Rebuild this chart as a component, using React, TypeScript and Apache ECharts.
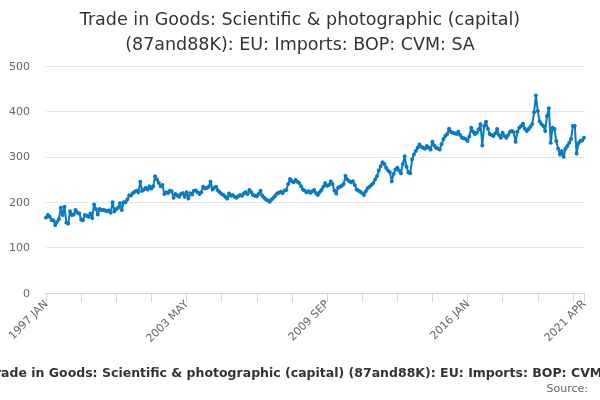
import { useEffect, useRef } from "react";
import * as echarts from "echarts";

const MONTHS = ["JAN", "FEB", "MAR", "APR", "MAY", "JUN", "JUL", "AUG", "SEP", "OCT", "NOV", "DEC"];

// monthly categories, 1997 JAN .. 2021 APR
const categories: string[] = [];
for (let y = 1997; y <= 2021; y++) {
  for (let m = 0; m < 12; m++) {
    if (y === 2021 && m > 3) break;
    categories.push(`${y} ${MONTHS[m]}`);
  }
}

// values, one per month
const values1997to2003 = [
  166, 172, 168, 161, 160, 150, 157, 163, 188, 172, 190, 155,
  153, 180, 172, 173, 183, 177, 175, 162, 160, 172, 170, 168,
  175, 165, 195, 185, 173, 185, 183, 183, 182, 180, 182, 177,
  200, 180, 185, 188, 198, 183, 200, 200, 206, 215, 215, 220,
  223, 225, 222, 245, 225, 228, 232, 228, 235, 230, 235, 257,
  250, 243, 235, 238, 218, 222, 220, 225, 224, 210, 218, 215,
];
const values2003to2009 = [
  212, 218, 220, 212, 222, 208, 220, 217, 225, 226, 222, 218,
  222, 234, 230, 232, 234, 245, 228, 232, 234, 226, 222, 218,
  216, 212, 208, 219, 214, 216, 212, 210, 213, 216, 214, 219,
  222, 218, 227, 222, 216, 214, 213, 218, 225, 214, 210, 206,
  204, 201, 206, 210, 214, 219, 221, 223, 220, 226, 227, 240,
  251, 246, 244, 249, 245, 242, 235, 228, 225, 222, 224, 221,
];
const values2009to2015 = [
  224, 227, 220, 216, 222, 227, 234, 242, 236, 238, 246, 240,
  226, 219, 232, 234, 236, 240, 258, 250, 246, 244, 246, 238,
  228, 226, 223, 220, 216, 224, 231, 234, 238, 242, 250, 257,
  270, 279, 288, 284, 276, 270, 266, 246, 262, 272, 276, 270,
  264, 284, 301, 278, 266, 264, 294, 305, 313, 320, 327, 322,
  320, 318, 324, 320, 316, 333, 325, 320, 318, 316, 328, 339,
];
const values2015to2021 = [
  346, 350, 362, 355, 353, 352, 350, 355, 348, 342, 341, 339,
  335, 345, 364, 355, 350, 353, 360, 372, 325, 368, 377, 362,
  350, 348, 346, 352, 361, 348, 342, 353, 346, 342, 348, 355,
  357, 354, 333, 355, 364, 368, 373, 362, 357, 361, 366, 372,
  398, 435, 401, 378, 372, 368, 357, 390, 407, 331, 364, 361,
  335, 318, 305, 313, 300, 318, 324, 331, 339, 368, 368, 307,
  330, 335, 336, 342,
];
const values = [...values1997to2003, ...values2003to2009, ...values2009to2015, ...values2015to2021];

const yTicks = [0, 100, 200, 300, 400, 500];
const titleLines = ["Trade in Goods: Scientific & photographic (capital)", "(87and88K): EU: Imports: BOP: CVM: SA"];
const seriesName = "Trade in Goods: Scientific & photographic (capital) (87and88K): EU: Imports: BOP: CVM: SA";

const FONT = "'DejaVu Sans', Verdana, sans-serif";
const LINE = "#0a7ac2";

export default function App() {
  const ref = useRef<HTMLDivElement>(null);

  useEffect(() => {
    if (!ref.current) return;
    const chart = echarts.init(ref.current, null, { renderer: "svg" });
    const last = categories.length - 1;

    chart.setOption({
      animation: false,
      textStyle: { fontFamily: FONT },
      title: {
        text: titleLines.join("\n"),
        left: "center",
        top: 1,
        textStyle: { fontFamily: FONT, fontSize: 17.5, fontWeight: "normal", color: "#333333", lineHeight: 25 },
      },
      grid: { left: 46, right: 16, top: 66, bottom: 107 },
      xAxis: {
        type: "category",
        data: categories,
        boundaryGap: false,
        axisLine: { lineStyle: { color: "#ccd6eb" } },
        axisTick: {
          length: 9,
          lineStyle: { color: "#ccd6eb" },
          interval: (i: number) => i % 19 === 0 || i === last,
        },
        axisLabel: {
          rotate: 45,
          margin: 9,
          fontSize: 11,
          color: "#666666",
          fontFamily: FONT,
          interval: (i: number) => i % 76 === 0 || i === last,
        },
        splitLine: { show: false },
      },
      yAxis: {
        type: "value",
        min: yTicks[0],
        max: yTicks[yTicks.length - 1],
        interval: 100,
        axisLine: { show: false },
        axisTick: { show: false },
        axisLabel: { fontSize: 11, color: "#666666", margin: 16, fontFamily: FONT },
        splitLine: { lineStyle: { color: "#e6e6e6" } },
      },
      series: [
        {
          name: seriesName,
          type: "line",
          data: values,
          symbol: "circle",
          symbolSize: 4,
          showSymbol: true,
          showAllSymbol: true,
          lineStyle: { color: LINE, width: 2 },
          itemStyle: { color: LINE },
        },
      ],
      graphic: [
        {
          type: "text",
          x: 309,
          y: 372,
          style: {
            text: seriesName,
            fontFamily: FONT,
            fontSize: 12.5,
            fontWeight: "bold",
            fill: "#333333",
            textAlign: "center",
            textVerticalAlign: "middle",
          },
        },
        {
          type: "text",
          x: 588,
          y: 388,
          style: {
            text: "Source:",
            fontFamily: FONT,
            fontSize: 11,
            fill: "#666666",
            textAlign: "right",
            textVerticalAlign: "middle",
          },
        },
      ],
    });

    return () => chart.dispose();
  }, []);

  return <div ref={ref} style={{ position: "fixed", left: 0, top: 0, width: 600, height: 400 }} />;
}
